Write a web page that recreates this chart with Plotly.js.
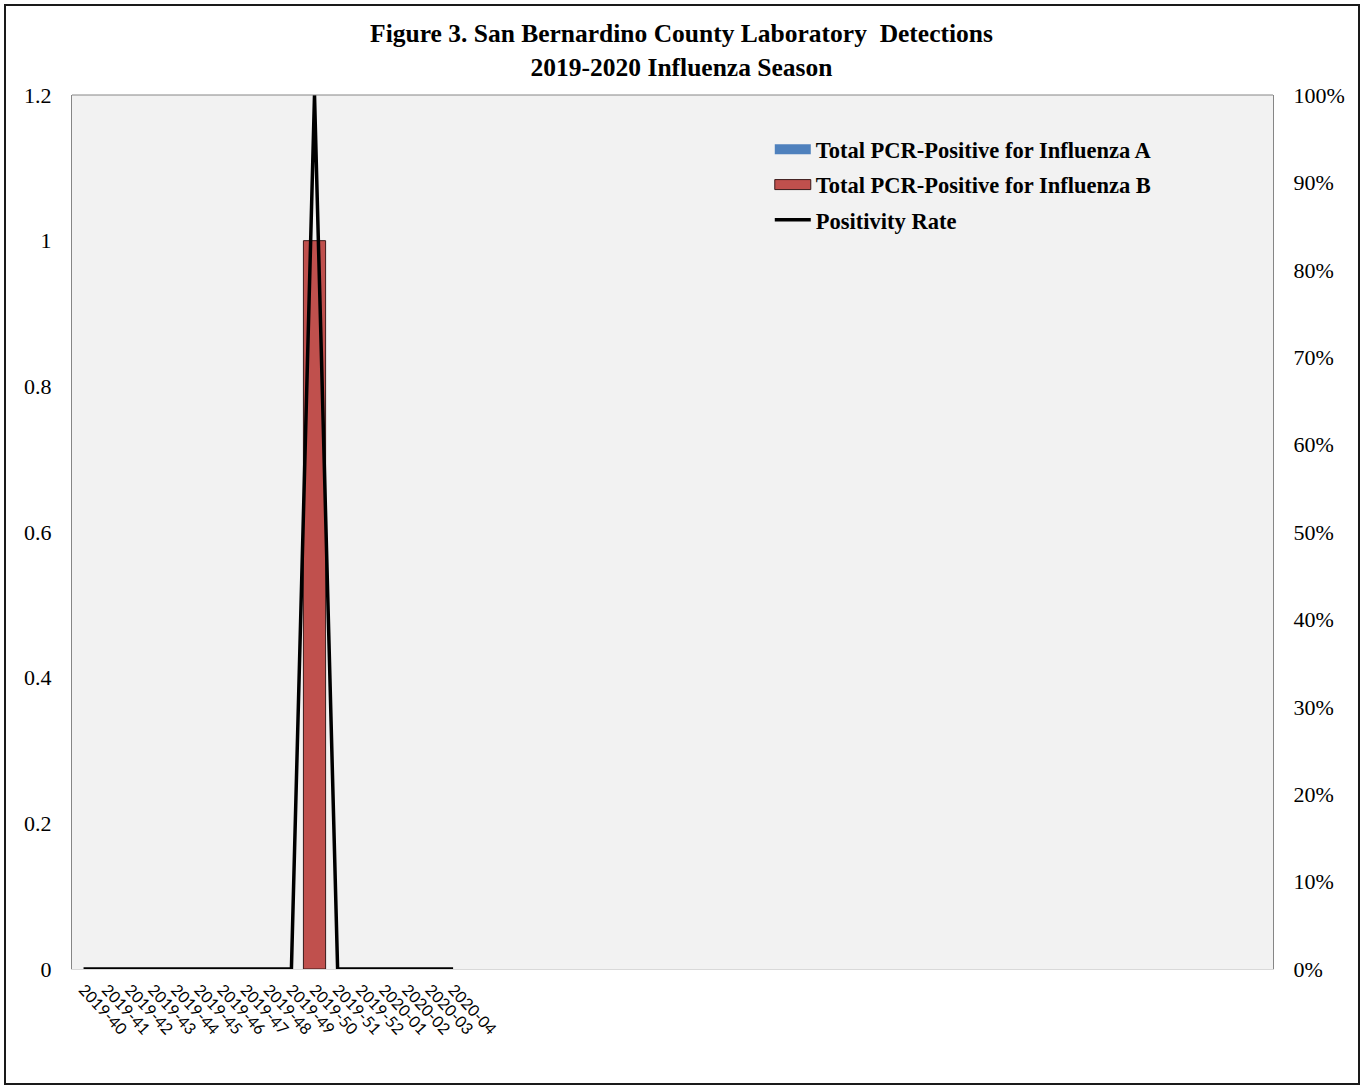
<!DOCTYPE html>
<html>
<head>
<meta charset="utf-8">
<script src="https://cdn.plot.ly/plotly-3.0.1.min.js"></script>
<style>
  html, body { margin: 0; padding: 0; background: #fff; }
  #chart { width: 1363px; height: 1087px; }
  #frame { position: absolute; left: 4px; top: 4px; width: 1352px; height: 1077px;
           border: 2px solid #1a1a1a; pointer-events: none; }
</style>
</head>
<body>
<div id="chart"></div>
<div id="frame"></div>
<script>
const weeks = ["2019-40","2019-41","2019-42","2019-43","2019-44","2019-45","2019-46","2019-47",
               "2019-48","2019-49","2019-50","2019-51","2019-52","2020-01","2020-02","2020-03","2020-04"];
const fluA = [0,0,0,0,0,0,0,0,0,0,0,0,0,0,0,0,0];
const fluB = [0,0,0,0,0,0,0,0,0,0,1,0,0,0,0,0,0];
const positivity = [0,0,0,0,0,0,0,0,0,0,1,0,0,0,0,0,0];
const seasonWeeks = 52;

const serif = "Liberation Serif, Times New Roman, serif";
const barEdge = "#3a1a1a";

const traces = [
  { type: "bar", name: "Total PCR-Positive for Influenza A", x: weeks, y: fluA, legendgroup: "a",
    marker: { color: "#4F81BD", line: { width: 0 } }, width: 0.96 },
  { type: "bar", name: "Total PCR-Positive for Influenza B", x: weeks, y: fluB, legendgroup: "b",
    marker: { color: "#C0504D", line: { color: barEdge, width: fluB.map(v => v > 0 ? 1 : 0) } }, width: 0.96 },
  { type: "scatter", mode: "lines", name: "Positivity Rate", x: weeks, y: positivity, legendgroup: "c",
    yaxis: "y2", line: { color: "#000", width: 3.5 } }
];

const layout = {
  width: 1363, height: 1087,
  margin: { l: 72, r: 90, t: 95, b: 118 },
  paper_bgcolor: "#fff", plot_bgcolor: "#F2F2F2",
  barmode: "overlay",
  showlegend: true,
  title: { text: "<b>Figure 3. San Bernardino County Laboratory  Detections</b><br><b>2019-2020 Influenza Season</b>",
           font: { family: serif, size: 25.5, color: "#000" }, x: 0.5, xanchor: "center", y: 0.961, yanchor: "top" },
  xaxis: { type: "category", range: [-0.5, seasonWeeks - 0.5], tickangle: 47,
           tickfont: { family: "Lato, Open Sans, sans-serif", size: 16, color: "#000" },
           showline: true, linecolor: "#D9D9D9", linewidth: 1, showgrid: false, ticks: "", zeroline: false,
           ticklabelstandoff: 4 },
  yaxis: { range: [0, 1.2], dtick: 0.2, showgrid: false, zeroline: false,
           showline: true, linecolor: "#868686", linewidth: 1, ticks: "",
           tickfont: { family: serif, size: 22, color: "#000" }, ticklabelstandoff: 15 },
  yaxis2: { overlaying: "y", side: "right", range: [0, 1], dtick: 0.1, tickformat: ".0%",
            showgrid: false, zeroline: false, showline: true, linecolor: "#868686", linewidth: 1,
            ticks: "", tickfont: { family: serif, size: 22, color: "#000" }, ticklabelstandoff: 15 },
  legend: { x: 0.581, y: 0.962, xanchor: "left", yanchor: "top", bgcolor: "rgba(0,0,0,0)",
            font: { family: serif, size: 22.5, color: "#000", weight: "bold" },
            itemwidth: 36, tracegroupgap: 3, traceorder: "grouped" },
  shapes: [
    { type: "line", xref: "paper", yref: "paper", x0: 0, x1: 1, y0: 1, y1: 1,
      line: { color: "#868686", width: 1 } }
  ]
};

Plotly.newPlot("chart", traces, layout, { displayModeBar: false, staticPlot: true }).then(gd => {
  // widen bar legend swatches to Excel-style rectangles
  const items = gd.querySelectorAll(".legend .traces");
  items.forEach((it, i) => {
    it.querySelectorAll(".legendpoints path").forEach(p => {
      const d = p.getAttribute("d") || "";
      if (/^M6,6H-6V-6H6Z$/.test(d)) {
        p.setAttribute("d", "M18,5H-18V-5H18Z");
        if (i === 1) { p.style.stroke = barEdge; p.style.strokeWidth = "1px"; }
      }
    });
  });
});
</script>
</body>
</html>
